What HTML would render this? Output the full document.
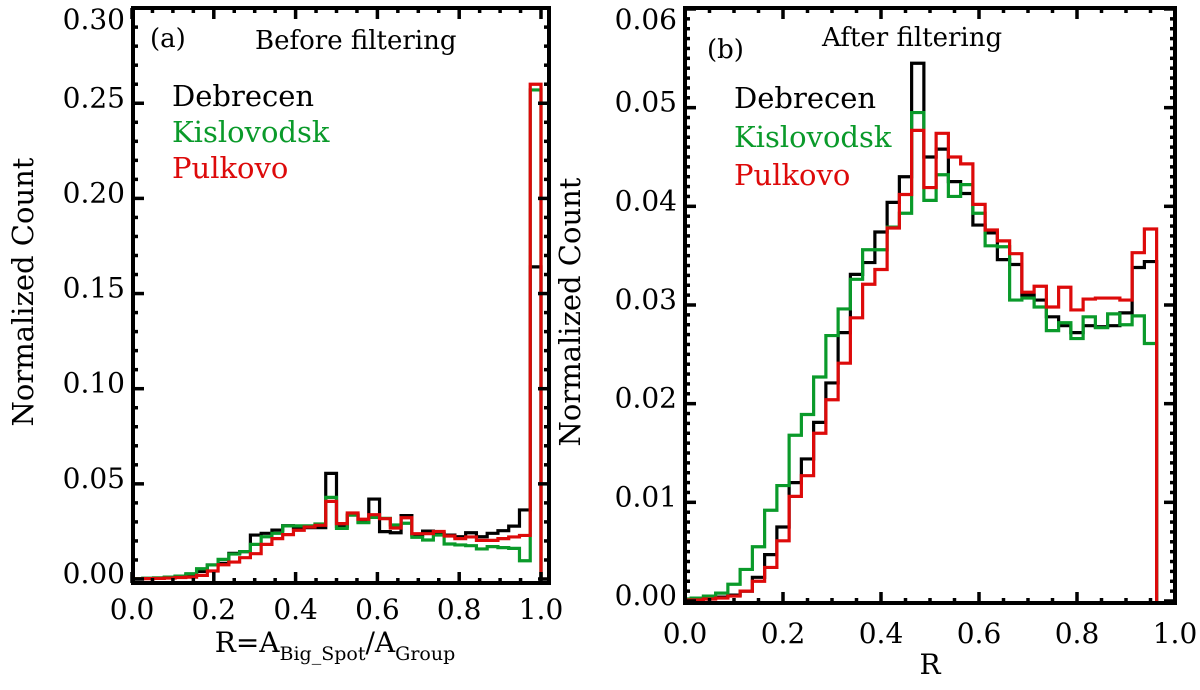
<!DOCTYPE html>
<html><head><meta charset="utf-8">
<style>
html,body{margin:0;padding:0;background:#fff;}
svg{display:block;}
text{font-family:"DejaVu Serif","Liberation Serif",serif;fill:#000;}
</style></head>
<body>
<svg id="chart" width="1200" height="690" viewBox="0 0 1200 690">
<defs>
<clipPath id="clipA"><rect x="133" y="8" width="416" height="575"/></clipPath>
<clipPath id="clipB"><rect x="685" y="8" width="490" height="595"/></clipPath>
</defs>
<g id="panelA"></g>
<g id="panelB"></g>
</svg>
<script>
// Panel (a) data: 38 bins of width 1/38 from 0 to 1
const binsA = 38;
const debrecenA = [0.0002,0.0003,0.0005,0.0008,0.0015,0.002,0.004,0.0074,0.0082,0.0135,0.0144,0.0231,0.024,0.0257,0.028,0.027,0.027,0.027,0.0555,0.0275,0.0336,0.030,0.042,0.0249,0.0243,0.0333,0.0231,0.0252,0.024,0.0231,0.0222,0.0243,0.0222,0.024,0.0254,0.0278,0.0363,0.164];
const kislovodskA = [0.0002,0.0004,0.0006,0.0010,0.0015,0.0028,0.0054,0.0074,0.0103,0.0131,0.0144,0.0182,0.0222,0.024,0.0279,0.0279,0.0279,0.0289,0.0429,0.0266,0.0336,0.0296,0.0324,0.0319,0.0284,0.0293,0.0219,0.0205,0.0231,0.0184,0.0179,0.0175,0.0158,0.017,0.0165,0.0161,0.0096,0.257];
const pulkovoA = [0.0001,0.0002,0.0003,0.0005,0.0008,0.0010,0.0019,0.0042,0.0075,0.0089,0.0112,0.0133,0.0182,0.0212,0.0233,0.0256,0.0273,0.0282,0.0408,0.0291,0.0347,0.0314,0.0338,0.0317,0.0268,0.0322,0.0238,0.0238,0.025,0.0226,0.0212,0.0221,0.0203,0.0203,0.0212,0.0221,0.0229,0.26];
const yTicksA = ["0.00","0.05","0.10","0.15","0.20","0.25","0.30"];
const xTicks = ["0.0","0.2","0.4","0.6","0.8","1.0"];
// Panel (b) data: bins centred at k*0.025
const binWidthB = 0.025;
const debrecenB = [0.0001,0.0002,0.0003,0.0004,0.0006,0.0010,0.0024,0.0047,0.0075,0.0120,0.0144,0.0181,0.0221,0.0272,0.0331,0.0343,0.0374,0.0404,0.0430,0.0545,0.0450,0.0458,0.0425,0.0413,0.0381,0.0373,0.0346,0.0341,0.0310,0.0305,0.0288,0.0279,0.0272,0.0279,0.0278,0.0279,0.0292,0.0338,0.0344];
const kislovodskB = [0.0002,0.0003,0.0005,0.0008,0.0017,0.0032,0.0055,0.0092,0.0117,0.0168,0.0189,0.0227,0.0269,0.0296,0.0326,0.0356,0.0356,0.0379,0.0393,0.0495,0.0406,0.0432,0.0410,0.0422,0.0393,0.0360,0.0359,0.0305,0.0307,0.0298,0.0274,0.0282,0.0266,0.0288,0.0277,0.0291,0.0280,0.0289,0.0261];
const pulkovoB = [0.0001,0.0001,0.0002,0.0003,0.0005,0.0010,0.0020,0.0034,0.0061,0.0106,0.0127,0.0170,0.0204,0.0241,0.0287,0.0321,0.0336,0.0378,0.0412,0.0477,0.0419,0.0474,0.0450,0.0443,0.0402,0.0376,0.0365,0.0352,0.0313,0.0319,0.0298,0.0318,0.0295,0.0306,0.0307,0.0307,0.0305,0.0353,0.0377];
const yTicksB = ["0.00","0.01","0.02","0.03","0.04","0.05","0.06"];

const NS = "http://www.w3.org/2000/svg";
function mk(parent, tag, attrs, txt){
  const e = document.createElementNS(NS, tag);
  for (const k in attrs) e.setAttribute(k, attrs[k]);
  if (txt !== undefined) e.textContent = txt;
  parent.appendChild(e);
  return e;
}

function drawPanel(g, cfg){
  const xs = v => cfg.x0 + v * cfg.xs;
  const ys = v => cfg.y0 - v * cfg.ys;
  const box = cfg.box;
  const sg = mk(g, "g", {"clip-path": cfg.clip});
  
  
  cfg.series.forEach(s => {
    let d = "";
    const n = s.values.length;
    for (let k = 0; k < n; k++){
      const xa = xs(cfg.edge(k)), xb = xs(cfg.edge(k+1)), y = ys(s.values[k]);
      if (k === 0) d += "M" + xa + "," + ys(0) + " L" + xa + "," + y;
      else d += " L" + xa + "," + y;
      d += " L" + xb + "," + y;
    }
    d += " L" + xs(cfg.edge(n)) + "," + ys(0);
    const p = mk(sg, "path", {d: d, fill: "none", stroke: s.color, "stroke-width": 3.2, "stroke-linejoin": "miter"});
    
    
  });
  const fr = mk(g, "rect", {x: box.l, y: box.t, width: box.r - box.l, height: box.b - box.t, fill: "none", stroke: "#000", "stroke-width": 4});
  
  
  const yt = mk(g, "g", {stroke: "#000", "stroke-width": 3.5});
  
  
  const nMinor = Math.round(cfg.yMax / cfg.yMinor);
  for (let i = 0; i <= nMinor; i++){
    const v = i * cfg.yMinor;
    const y = ys(v);
    const major = (i % cfg.yMinorPer) === 0;
    const L = major ? 11 : 5;
    mk(yt, "line", {x1: box.l, x2: box.l + L, y1: y, y2: y});
    mk(yt, "line", {x1: box.r, x2: box.r - L, y1: y, y2: y});
  }
  cfg.yTicks.forEach((t, i) => {
    const yb = Math.max(ys(i * cfg.yMajor) + 4, 29);
    const lab = mk(g, "text", {x: box.l - 8, y: yb, "text-anchor": "end", "font-size": 28}, t);
    
    
  });
  const xt = mk(g, "g", {stroke: "#000", "stroke-width": 3.5});
  
  
  for (let i = 0; i <= 20; i++){
    const v = i * 0.05;
    const x = xs(v);
    if (x < box.l - 1 || x > box.r + 1) continue;
    const L = (i % 4 === 0) ? 11 : 5;
    mk(xt, "line", {x1: x, x2: x, y1: box.b, y2: box.b - L});
    mk(xt, "line", {x1: x, x2: x, y1: box.t, y2: box.t + L});
  }
  xTicks.forEach((t, i) => {
    const lab = mk(g, "text", {x: xs(i * 0.2), y: box.b + cfg.xLabOff, "text-anchor": "middle", "font-size": 28}, t);
    
    
  });
}

const gA = document.getElementById("panelA");
drawPanel(gA, {
  x0: 132, xs: 409, y0: 579, ys: 1903, clip: "url(#clipA)",
  box: {l: 133, r: 549, t: 8, b: 583}, xLabOff: 36,
  edge: k => k / binsA,
  yMax: 0.30, yMinor: 0.01, yMinorPer: 5, yMajor: 0.05, yTicks: yTicksA,
  series: [
    {name: "debrecen-series-a", color: "#000000", values: debrecenA},
    {name: "kislovodsk-series-a", color: "#0a9a2a", values: kislovodskA},
    {name: "pulkovo-series-a", color: "#dd0a0a", values: pulkovoA}
  ]
});
const gB = document.getElementById("panelB");
drawPanel(gB, {
  x0: 685, xs: 490, y0: 601, ys: 9867, clip: "url(#clipB)",
  box: {l: 685, r: 1175, t: 8, b: 603}, xLabOff: 40,
  edge: k => (k - 0.5) * binWidthB,
  yMax: 0.06, yMinor: 0.001, yMinorPer: 10, yMajor: 0.01, yTicks: yTicksB,
  series: [
    {name: "debrecen-series-b", color: "#000000", values: debrecenB},
    {name: "kislovodsk-series-b", color: "#0a9a2a", values: kislovodskB},
    {name: "pulkovo-series-b", color: "#dd0a0a", values: pulkovoB}
  ]
});
</script>
<svg width="1200" height="690" viewBox="0 0 1200 690" style="position:absolute;left:0;top:0;pointer-events:none">
  <text x="150" y="47" font-size="26">(a)</text>
  <text x="255" y="49" font-size="26">Before filtering</text>
  <text x="172" y="106" font-size="29">Debrecen</text>
  <text x="172" y="142" font-size="29" style="fill:#0a9a2a">Kislovodsk</text>
  <text x="172" y="178" font-size="29" style="fill:#dd0a0a">Pulkovo</text>
  <text transform="translate(33,292) rotate(-90)" text-anchor="middle" font-size="29">Normalized Count</text>
  <text x="335" y="652" text-anchor="middle" font-size="28">R=A<tspan font-size="19" dy="8">Big_Spot</tspan><tspan dy="-8">/A</tspan><tspan font-size="19" dy="8">Group</tspan></text>
  <text x="707" y="58" font-size="26">(b)</text>
  <text x="822" y="46" font-size="26">After filtering</text>
  <text x="734" y="108" font-size="29">Debrecen</text>
  <text x="734" y="147" font-size="29" style="fill:#0a9a2a">Kislovodsk</text>
  <text x="734" y="185" font-size="29" style="fill:#dd0a0a">Pulkovo</text>
  <text transform="translate(580,312) rotate(-90)" text-anchor="middle" font-size="29">Normalized Count</text>
  <text x="930" y="674" text-anchor="middle" font-size="28">R</text>
</svg>
</body></html>
